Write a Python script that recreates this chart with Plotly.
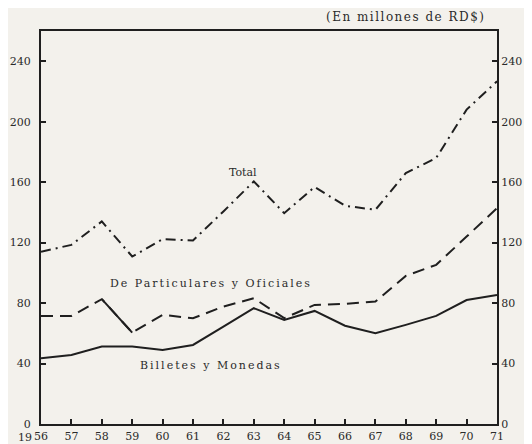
import plotly.graph_objects as go

years = list(range(1956, 1972))
year_labels = ["56", "57", "58", "59", "60", "61", "62", "63", "64", "65", "66", "67", "68", "69", "70", "71"]
total = [114, 118.5, 134, 110.8, 122.3, 121.4, 140.6, 160.5, 139.5, 156.8, 144.4, 141.7, 166, 176, 208, 226.7]
particulares = [71.5, 71.5, 82.6, 60.5, 72.2, 70, 77.7, 83.2, 70, 78.8, 79.5, 81, 98, 105.3, 124, 142.8]
billetes = [43.5, 45.7, 51.2, 51.2, 49, 52.3, 64.4, 76.6, 68.9, 74.8, 65, 60, 65.6, 71.5, 82, 85.4]
y_ticks = [0, 40, 80, 120, 160, 200, 240]

ink = "#1f1f1f"
bg = "#f3f1ec"
serif = "DejaVu Serif"

fig = go.Figure()
fig.add_trace(go.Scatter(x=years, y=total, mode="lines",
                         line=dict(color=ink, width=2, dash="10px,5px,2px,5px"),
                         hoverinfo="skip", showlegend=False))
fig.add_trace(go.Scatter(x=years, y=particulares, mode="lines",
                         line=dict(color=ink, width=2, dash="12px,7px"),
                         hoverinfo="skip", showlegend=False))
# the 1958-59 segment of the deposits line is drawn solid in the original
fig.add_trace(go.Scatter(x=years[2:4], y=particulares[2:4], mode="lines",
                         line=dict(color=ink, width=2),
                         hoverinfo="skip", showlegend=False))
fig.add_trace(go.Scatter(x=years, y=billetes, mode="lines",
                         line=dict(color=ink, width=2),
                         hoverinfo="skip", showlegend=False))
# invisible trace to show right axis
fig.add_trace(go.Scatter(x=years[:1], y=billetes[:1], yaxis="y2", mode="markers",
                         marker=dict(opacity=0), hoverinfo="skip", showlegend=False))

tickfont = dict(family=serif, size=11, color="#2a2a2a")
# the page body has an 8px margin; figure is sized to compensate
fig.update_layout(
    width=524, height=436,
    margin=dict(l=33, r=35, t=23, b=20),
    paper_bgcolor=bg, plot_bgcolor=bg,
    xaxis=dict(range=[1956, 1971], tickvals=years, ticktext=year_labels,
               showgrid=False, zeroline=False, showline=True, mirror=True,
               linecolor=ink, linewidth=2, ticks="inside", ticklen=5, tickwidth=2,
               tickcolor=ink, tickfont=tickfont, automargin=False,
               ticklabelstandoff=1),
    yaxis=dict(range=[0, 260], tickvals=y_ticks, showgrid=False, zeroline=False,
               showline=True, linecolor=ink, linewidth=2, ticks="inside",
               ticklen=5, tickwidth=2, tickcolor=ink, tickfont=tickfont,
               automargin=False, ticklabelstandoff=6),
    yaxis2=dict(range=[0, 260], tickvals=y_ticks, overlaying="y", side="right",
                showgrid=False, zeroline=False, showline=True, linecolor=ink,
                linewidth=2, ticks="inside", ticklen=5, tickwidth=2, tickcolor=ink,
                tickfont=tickfont, automargin=False),
)

lab = dict(family=serif, size=11, color="#2a2a2a")
fig.add_annotation(x=1962.64, y=166.4, text="Total", showarrow=False, font=lab)
fig.add_annotation(x=1961.6, y=92.7,
                   text='<span style="letter-spacing:2px">De Particulares y Oficiales</span>',
                   showarrow=False, font=lab)
fig.add_annotation(x=1961.6, y=39,
                   text='<span style="letter-spacing:2px">Billetes y Monedas</span>',
                   showarrow=False, font=lab)
fig.add_annotation(xref="paper", yref="paper", x=0.978, y=1.036, xanchor="right",
                   yanchor="middle",
                   text='<span style="letter-spacing:1.5px">(En millones de RD$)</span>',
                   showarrow=False, font=dict(family=serif, size=12, color="#2a2a2a"))
fig.add_annotation(x=1956, y=0, yref="y", xanchor="right", yanchor="top",
                   xshift=-7, yshift=-5, text="19", showarrow=False, font=tickfont)

fig.write_html("out.html")
